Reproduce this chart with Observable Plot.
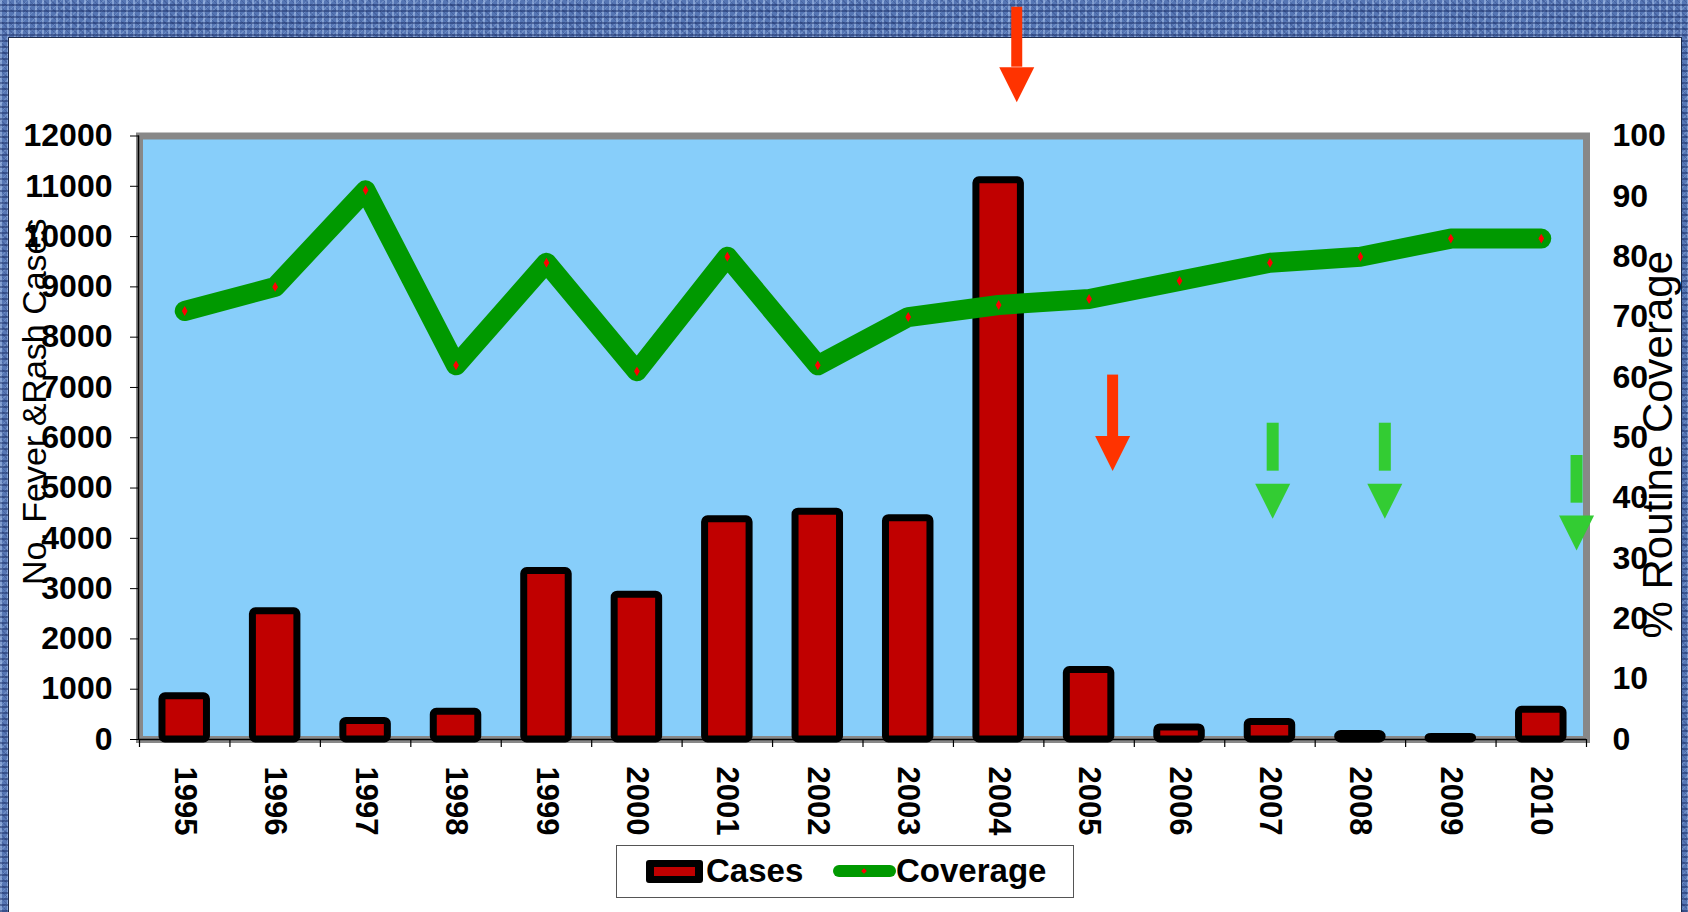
<!DOCTYPE html>
<html>
<head>
<meta charset="utf-8">
<script src="https://cdn.jsdelivr.net/npm/d3@7"></script>
<script src="https://cdn.jsdelivr.net/npm/@observablehq/plot@0.6"></script>
<style>
html, body { margin: 0; padding: 0; }
body {
  width: 1688px; height: 912px; overflow: hidden; position: relative;
  font-family: "Liberation Sans", Arial, sans-serif;
  background-color: #5676b4;
  background-image:
    repeating-linear-gradient(0deg, rgba(18,36,92,0.45) 0 2px, rgba(0,0,0,0) 2px 6px),
    repeating-linear-gradient(90deg, rgba(190,215,250,0.45) 0 2px, rgba(0,0,0,0) 2px 7px),
    repeating-linear-gradient(45deg, rgba(30,50,110,0.25) 0 1px, rgba(0,0,0,0) 1px 5px),
    repeating-linear-gradient(-45deg, rgba(200,225,255,0.2) 0 1px, rgba(0,0,0,0) 1px 6px);
}
#panel { position: absolute; left: 8px; top: 37px; width: 1674px; height: 890px; background: #fff;
  border: 1.5px solid #1c2a4a; box-sizing: border-box; }
#chart { position: absolute; left: 0; top: 0; }
#legend { position: absolute; left: 616px; top: 845px; width: 458px; height: 53px; box-sizing: border-box;
  border: 1.5px solid #555; background: #fff; }
#legend .sw-bar { position: absolute; left: 29px; top: 14px; width: 57px; height: 23px; box-sizing: border-box;
  background: #C00000; border-style: solid; border-color: #000; border-width: 7.5px 8px; border-radius: 3px; }
#legend .sw-line { position: absolute; left: 216px; top: 19px; width: 63px; height: 12px; border-radius: 6px; background: #009900; }
#legend .sw-line i { position: absolute; left: 29px; top: 4px; width: 4px; height: 4px; background: #ff0000; transform: rotate(45deg); }
#legend span { position: absolute; top: 8px; font-size: 33px; line-height: 33px; font-weight: bold; color: #000; }
</style>
</head>
<body>
<div id="panel"></div>
<div id="chart"></div>
<div id="legend">
  <div class="sw-bar"></div><span style="left:89px">Cases</span>
  <div class="sw-line"><i></i></div><span style="left:279px">Coverage</span>
</div>
<script>
// ---- data ----
const years = [1995, 1996, 1997, 1998, 1999, 2000, 2001, 2002, 2003, 2004, 2005, 2006, 2007, 2008, 2009, 2010];
const cases = [860, 2550, 370, 550, 3350, 2880, 4380, 4530, 4400, 11120, 1380, 240, 350, 110, 50, 590];
const coverage = [71, 75, 91, 62, 79, 61, 80, 62, 70, 72, 73, 76, 79, 80, 83, 83];
const leftTicks = [0, 1000, 2000, 3000, 4000, 5000, 6000, 7000, 8000, 9000, 10000, 11000, 12000];
const rightTicks = [0, 10, 20, 30, 40, 50, 60, 70, 80, 90, 100];
const leftTitle = "No. Fever &Rash Cases";
const rightTitle = "% Routine Coverage";
// annotation arrows (positions in year / case-count units)
const arrowYear = [2004.2, 2005.26, 2007.03, 2008.27, 2010.39];
const arrowTop = [14560, 7246, 6289, 6289, 5647];
const arrowShaftEnd = [13368, 6025, 5335, 5335, 4699];
const arrowTip = [12672, 5341, 4389, 4389, 3758];
const arrowKind = ["red", "red", "green", "green", "green"];

// ---- build ----
const COVER_MAX = 100, CASES_MAX = 12000, k = CASES_MAX / COVER_MAX;
const data = years.map((year, i) => ({year, cases: cases[i], coverage: coverage[i]}));
const arrows = arrowYear.map((x, i) => ({x, top: arrowTop[i], shaftEnd: arrowShaftEnd[i], tip: arrowTip[i], kind: arrowKind[i]}));
const redArrows = arrows.filter(d => d.kind === "red");
const greenArrows = arrows.filter(d => d.kind === "green");
const boundaries = [...years.map(y => y - 0.5), years[years.length - 1] + 0.5];

const downTriangle = {
  draw(context, size) {
    const r = Math.sqrt(size / Math.PI);
    context.moveTo(0, 0);
    context.lineTo(-r, -2 * r);
    context.lineTo(r, -2 * r);
    context.closePath();
  }
};

const RED = "#FF3300", GREEN = "#33CC33";

const chart = Plot.plot({
  width: 1688,
  height: 840,
  marginLeft: 139,
  marginRight: 102,
  marginTop: 135.5,
  marginBottom: 101,
  style: {background: "transparent", fontFamily: "'Liberation Sans', Arial, sans-serif", overflow: "visible", color: "#000"},
  x: {type: "linear", domain: [years[0] - 0.5, years[years.length - 1] + 0.5], label: null},
  y: {domain: [0, CASES_MAX], label: null},
  marks: [
    Plot.frame({fill: "#87CEFA", stroke: null}),
    Plot.frame({stroke: "#888888", strokeWidth: 7}),
    Plot.ruleX([years[0] - 0.5], {stroke: "#000", strokeWidth: 1.5, dx: -1}),
    Plot.ruleY([0], {stroke: "#000", strokeWidth: 1.5}),
    // x boundary ticks
    Plot.axisX({ticks: boundaries, tickFormat: () => "", tickSize: 8, stroke: "#000", strokeWidth: 1.2, label: null}),
    // left axis
    Plot.axisY({anchor: "left", ticks: leftTicks, tickFormat: d => String(d), tickSize: 9, tickPadding: 18, fontSize: 32, fontWeight: "bold", label: null}),
    // right axis
    Plot.axisY({anchor: "right", ticks: rightTicks.map(v => v * k), tickFormat: d => String(Math.round(d / k)), tickSize: 0, tickPadding: 26, fontSize: 32, fontWeight: "bold", label: null}),
    // year labels
    Plot.text(years, {x: d => d, text: d => String(d), frameAnchor: "bottom", rotate: 90, textAnchor: "start", lineAnchor: "middle", dy: 27, fontSize: 31, fontWeight: "bold", fill: "#000"}),
    // bars
    Plot.rectY(data, {x1: d => d.year - 0.246, x2: d => d.year + 0.246, y1: 0, y2: "cases", fill: "#C00000", stroke: "#000", strokeWidth: 7, strokeLinejoin: "round", rx: 3}),
    // coverage line
    Plot.line(data, {x: "year", y: d => d.coverage * k, stroke: "#009900", strokeWidth: 20, strokeLinecap: "round", strokeLinejoin: "round"}),
    Plot.dot(data, {x: "year", y: d => d.coverage * k, symbol: "diamond", r: 3, fill: "#ff0000", stroke: "none"}),
    // arrows
    Plot.ruleX(redArrows, {x: "x", y1: "top", y2: "shaftEnd", stroke: RED, strokeWidth: 11}),
    Plot.dot(redArrows, {x: "x", y: "tip", symbol: downTriangle, r: 17.5, fill: RED, stroke: "none"}),
    Plot.ruleX(greenArrows, {x: "x", y1: "top", y2: "shaftEnd", stroke: GREEN, strokeWidth: 12}),
    Plot.dot(greenArrows, {x: "x", y: "tip", symbol: downTriangle, r: 17.5, fill: GREEN, stroke: "none"}),
    // axis titles
    Plot.text([leftTitle], {frameAnchor: "left", rotate: -90, textAnchor: "middle", dx: -104, dy: -36, fontSize: 34, fill: "#000", lineAnchor: "middle"}),
    Plot.text([rightTitle], {frameAnchor: "right", rotate: -90, textAnchor: "middle", dx: 72, dy: 7, fontSize: 42, fill: "#000", lineAnchor: "middle"})
  ]
});
document.getElementById("chart").appendChild(chart);
</script>
</body>
</html>
